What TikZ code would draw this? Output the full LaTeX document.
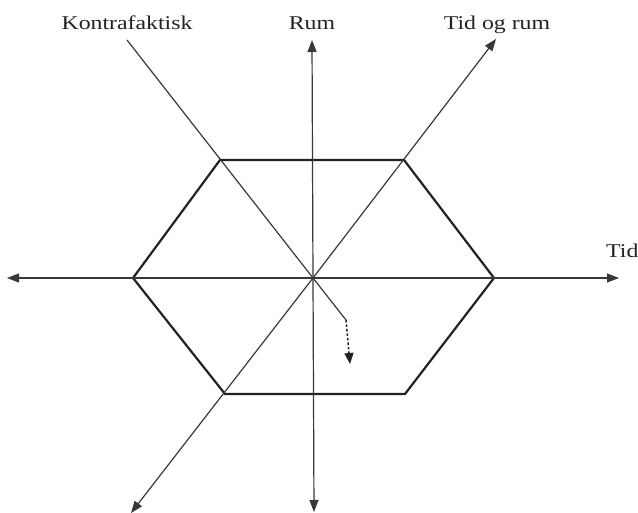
\documentclass[tikz,border=0pt]{standalone}
\usepackage{fontspec}
\setmainfont{Liberation Serif}[FakeStretch=1.22]
\usetikzlibrary{arrows.meta,positioning}
\definecolor{Ink}{HTML}{222222}
\definecolor{Soft}{HTML}{383838}

\begin{document}
\begin{tikzpicture}[
  x=1pt,y=-1pt,
  node distance=10pt,
  lbl/.style={font=\fontsize{19.5}{22}\selectfont,text=Ink,inner sep=0pt},
  axis/.style={-{Triangle[length=12pt,width=9pt]},line width=1.2pt,draw=Soft},
  plain/.style={line width=1.2pt,draw=Soft},
  hexa/.style={line width=2.2pt,draw=Ink,line join=miter},
  dots/.style={-{Triangle[length=11pt,width=9pt]},line width=1.5pt,draw=Ink,dash pattern=on 2.5pt off 2pt}
]
\useasboundingbox (0,0) rectangle (638,513);
% centre and ends of the axes
\coordinate (O) at (313,278);
\coordinate (rumTip) at (312,40);
\coordinate (rumEnd) at (314,512);
\coordinate (tidTip) at (619,278);
\coordinate (tidEnd) at (7,278);
\coordinate (begTip) at (496,39);
\coordinate (begEnd) at (131,513);
\coordinate (konStart) at (127,40);
\coordinate (bend) at (346,320);
\coordinate (drop) at (350,364);
% hexagon corners
\coordinate (h1) at (220,160);
\coordinate (h2) at (404,160);
\coordinate (h3) at (494,278);
\coordinate (h4) at (405,394);
\coordinate (h5) at (225,394);
\coordinate (h6) at (133,278);

\draw[hexa] (h1) -- (h2) -- (h3) -- (h4) -- (h5) -- (h6) -- cycle;

\draw[axis] (O) -- (rumTip);
\draw[axis] (O) -- (rumEnd);
\draw[axis] (O) -- (tidTip);
\draw[axis] (O) -- (tidEnd);
\draw[axis] (O) -- (begTip);
\draw[axis] (O) -- (begEnd);
\draw[plain] (konStart) -- (O) -- (bend);
\draw[dots] (bend) -- (drop);

\node[lbl,above=of konStart] (kon) {Kontrafaktisk};
\node[lbl,above=of rumTip] (rum) {Rum};
\node[lbl,anchor=base] (beg) at (497,30) {Tid og rum};
\node[lbl,anchor=base west] (tid) at (606,258) {Tid};
\end{tikzpicture}
\end{document}
